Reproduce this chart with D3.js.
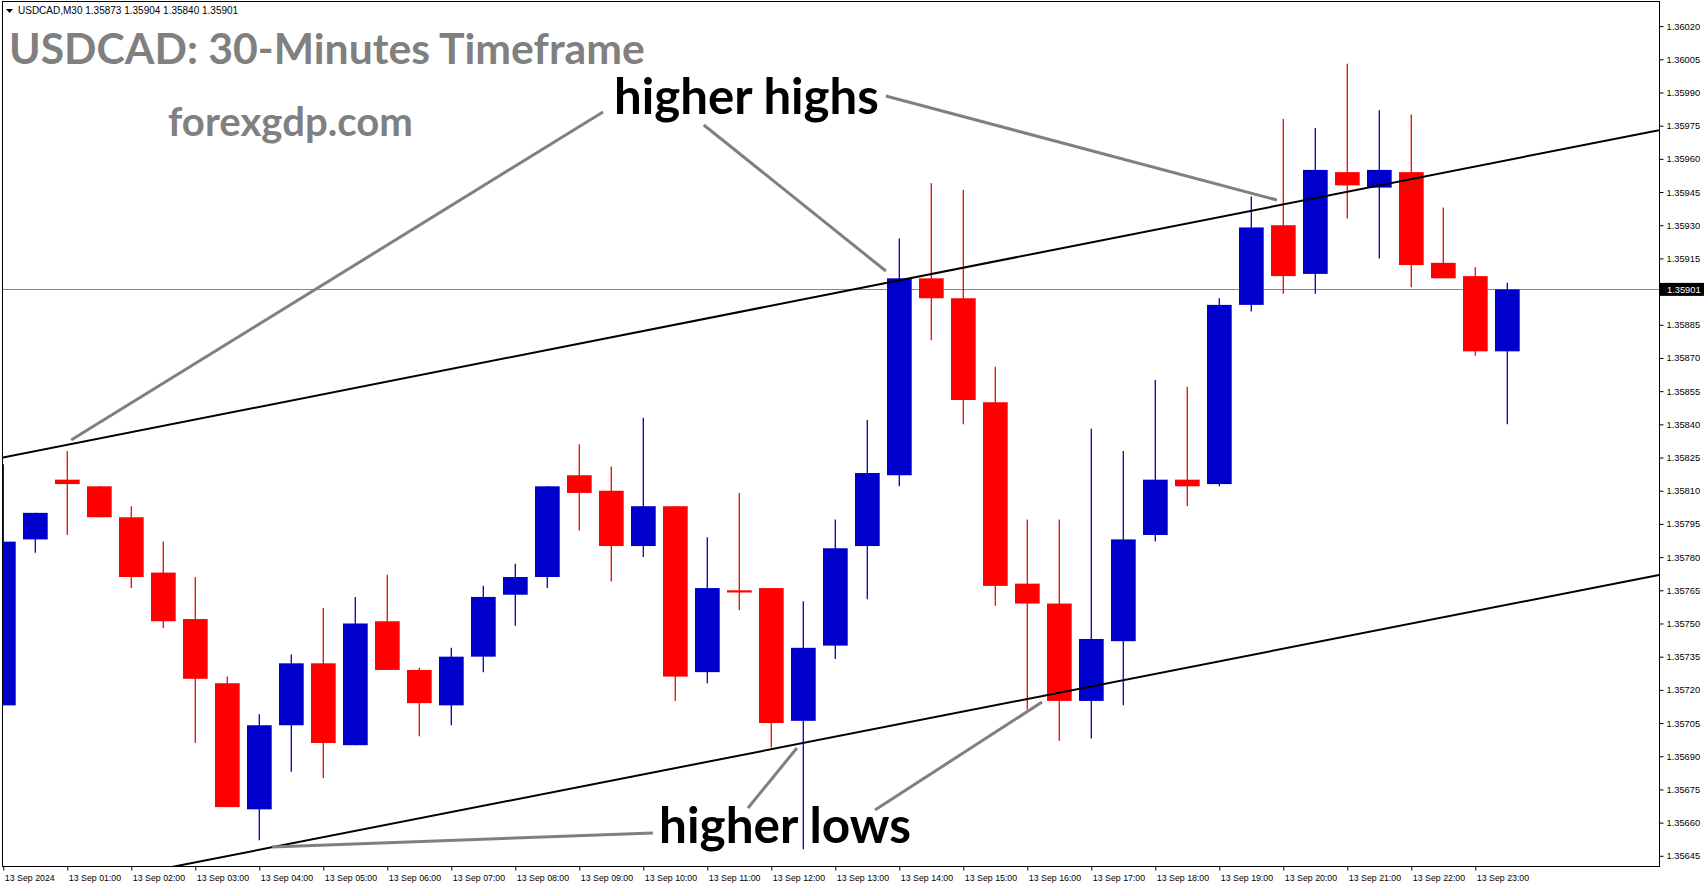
<!DOCTYPE html>
<html><head><meta charset="utf-8">
<script src="https://cdn.jsdelivr.net/npm/d3@7"></script>
<style>body{margin:0;background:#fff;overflow:hidden}</style>
</head><body><svg id="c" width="1705" height="888"></svg>
<script>
// ---------------- DATA ----------------
const timeLabels = ["13 Sep 2024","13 Sep 01:00","13 Sep 02:00","13 Sep 03:00","13 Sep 04:00","13 Sep 05:00",
  "13 Sep 06:00","13 Sep 07:00","13 Sep 08:00","13 Sep 09:00","13 Sep 10:00","13 Sep 11:00","13 Sep 12:00",
  "13 Sep 13:00","13 Sep 14:00","13 Sep 15:00","13 Sep 16:00","13 Sep 17:00","13 Sep 18:00","13 Sep 19:00",
  "13 Sep 20:00","13 Sep 21:00","13 Sep 22:00","13 Sep 23:00"];
const opens = [1.35713,1.35788,1.35815,1.35812,1.35798,1.35773,1.35752,1.35723,1.35666,1.35704,
 1.35732,1.35695,1.35751,1.35729,1.35713,1.35735,1.35763,1.35771,1.35817,1.35810,
 1.35785,1.35803,1.35728,1.35765,1.35766,1.35706,1.35740,1.35785,1.35817,1.35906,
 1.35897,1.35850,1.35768,1.35759,1.35715,1.35742,1.35790,1.35815,1.35813,1.35894,
 1.35930,1.35908,1.35954,1.35947,1.35954,1.35913,1.35907,1.35873];
const highs = [1.35822,1.35800,1.35828,1.35812,1.35803,1.35787,1.35771,1.35726,1.35709,1.35736,
 1.35757,1.35762,1.35772,1.35730,1.35739,1.35767,1.35777,1.35812,1.35831,1.35821,
 1.35843,1.35803,1.35789,1.35809,1.35766,1.35760,1.35797,1.35842,1.35924,1.35949,
 1.35946,1.35866,1.35797,1.35797,1.35838,1.35828,1.35860,1.35857,1.35897,1.35943,
 1.35978,1.35974,1.36003,1.35982,1.35980,1.35938,1.35911,1.35904];
const lows = [1.35713,1.35782,1.35790,1.35798,1.35766,1.35748,1.35696,1.35667,1.35652,1.35683,
 1.35680,1.35695,1.35729,1.35699,1.35704,1.35728,1.35749,1.35766,1.35792,1.35769,
 1.35780,1.35715,1.35723,1.35756,1.35694,1.35648,1.35734,1.35761,1.35812,1.35878,
 1.35840,1.35758,1.35711,1.35697,1.35698,1.35713,1.35787,1.35803,1.35812,1.35891,
 1.35899,1.35899,1.35933,1.35915,1.35902,1.35906,1.35871,1.35840];
const closes = [1.35787,1.35800,1.35813,1.35798,1.35771,1.35751,1.35725,1.35667,1.35704,1.35732,
 1.35696,1.35750,1.35729,1.35714,1.35735,1.35762,1.35771,1.35812,1.35809,1.35785,
 1.35803,1.35726,1.35766,1.35764,1.35705,1.35739,1.35784,1.35818,1.35906,1.35897,
 1.35851,1.35767,1.35759,1.35715,1.35743,1.35788,1.35815,1.35812,1.35894,1.35929,
 1.35907,1.35955,1.35948,1.35955,1.35912,1.35906,1.35873,1.35901];
const priceTicks = [1.36020,1.36005,1.35990,1.35975,1.35960,1.35945,1.35930,1.35915,1.35885,1.35870,
 1.35855,1.35840,1.35825,1.35810,1.35795,1.35780,1.35765,1.35750,1.35735,1.35720,1.35705,1.35690,
 1.35675,1.35660,1.35645];
const currentPrice = 1.35901;
const headerText = "USDCAD,M30  1.35873 1.35904 1.35840 1.35901";
const titleText = "USDCAD: 30-Minutes Timeframe";
const siteText = "forexgdp.com";
// trend channel anchors: [candle index, price]
const upperTrend = [[0,1.35825],[50,1.35968]];
const lowerTrend = [[0,1.35625],[50,1.35767]];
// annotation pointer lines: [[idx,price],[idx,price]]
const highPointers = [[[18.74,1.359812],[2.12,1.358329]],[[21.89,1.359753],[27.58,1.359093]],[[27.58,1.359884],[39.80,1.359414]]];
const lowPointers = [[[20.30,1.356553],[8.40,1.356490]],[[23.27,1.356666],[24.80,1.356937]],[[27.24,1.356657],[32.46,1.357145]]];

// ---------------- LAYOUT ----------------
const L = 2, R = 1659, T = 1, B = 866;
const svg = d3.select("#c");
const x = d3.scaleLinear().domain([0, 47]).range([3.3, 1507.3]);
const y = d3.scaleLinear().domain([1.35645, 1.36020]).range([855.8, 26.1]);
const data = opens.map((o,i)=>({i,o,h:highs[i],l:lows[i],c:closes[i]}));

svg.append("defs").append("clipPath").attr("id","pc").append("rect")
  .attr("x",L+1).attr("y",T+1).attr("width",R-L-1).attr("height",B-T-1);
const plot = svg.append("g").attr("clip-path","url(#pc)");

// current price line
plot.append("line").attr("x1",L).attr("x2",R).attr("y1",Math.round(y(currentPrice))+0.5).attr("y2",Math.round(y(currentPrice))+0.5)
  .attr("stroke","#7a8a9a").attr("stroke-width",1);

// candles
const cg = plot.append("g");
data.forEach(d=>{
  const col = d.c >= d.o ? "#0000cc" : "#ff0000";
  const cx = x(d.i);
  cg.append("line").attr("x1",cx).attr("x2",cx).attr("y1",y(d.h)).attr("y2",y(d.l))
    .attr("stroke",col).attr("stroke-width",1.3);
  const top = y(Math.max(d.o,d.c)), bot = y(Math.min(d.o,d.c));
  cg.append("rect").attr("x",cx-12.3).attr("width",24.7).attr("y",top).attr("height",Math.max(1.5,bot-top)).attr("fill",col);
});

// trend lines
function trend(a){
  const s = (a[1][1]-a[0][1])/(a[1][0]-a[0][0]);
  const i0 = x.invert(L), i1 = x.invert(R);
  return [[x(i0), y(a[0][1]+s*(i0-a[0][0]))],[x(i1), y(a[0][1]+s*(i1-a[0][0]))]];
}
[upperTrend, lowerTrend].forEach(a=>{
  const p = trend(a);
  plot.append("line").attr("x1",p[0][0]).attr("y1",p[0][1]).attr("x2",p[1][0]).attr("y2",p[1][1])
    .attr("stroke","#000").attr("stroke-width",2);
});

// annotation pointers
highPointers.concat(lowPointers).forEach(p=>{
  plot.append("line").attr("x1",x(p[0][0])).attr("y1",y(p[0][1])).attr("x2",x(p[1][0])).attr("y2",y(p[1][1]))
    .attr("stroke","#808080").attr("stroke-width",3);
});

// texts
function fitText(t, w){
  const len = t.node().getComputedTextLength();
  const fs = parseFloat(t.attr("font-size"));
  t.attr("font-size", fs*w/len);
}
const bigFont = "Lato, 'Open Sans', sans-serif";
fitText(svg.append("text").attr("x",9).attr("y",64).attr("font-family",bigFont).attr("font-weight",700)
  .attr("font-size",40).attr("fill","#808080").text(titleText), 636);
fitText(svg.append("text").attr("x",168).attr("y",136).attr("font-family",bigFont).attr("font-weight",700)
  .attr("font-size",30).attr("fill","#808080").text(siteText), 245);
fitText(svg.append("text").attr("x",614).attr("y",114).attr("font-family",bigFont).attr("font-weight",700)
  .attr("font-size",44).attr("fill","#000").text("higher highs"), 265);
fitText(svg.append("text").attr("x",659).attr("y",843).attr("font-family",bigFont).attr("font-weight",700)
  .attr("font-size",44).attr("fill","#000").text("higher lows"), 252);

// header
svg.append("path").attr("d","M6,9 L13,9 L9.5,13 Z").attr("fill","#000");
svg.append("text").attr("x",18).attr("y",14).attr("font-family","'Liberation Sans', Arial, sans-serif")
  .attr("font-size",10).attr("fill","#000").text(headerText);

// frame
svg.append("rect").attr("x",L+0.5).attr("y",T+0.5).attr("width",R-L).attr("height",B-T)
  .attr("fill","none").attr("stroke","#000").attr("stroke-width",1);

// right axis
const ya = svg.append("g").attr("transform",`translate(${R+0.5},0)`)
  .call(d3.axisRight(y).tickValues(priceTicks).tickSize(4).tickPadding(3).tickFormat(d3.format(".5f")));
ya.select(".domain").remove();
ya.selectAll("text").attr("font-family","'Liberation Sans', Arial, sans-serif").attr("font-size",9.3).attr("fill","#000");
ya.selectAll("line").attr("stroke","#000");

// current price label
const cy = y(currentPrice);
svg.append("rect").attr("x",R+1).attr("y",cy-6.5).attr("width",44).attr("height",13).attr("fill","#000");
svg.append("text").attr("x",R+8).attr("y",cy).attr("dy","0.34em").attr("font-family","'Liberation Sans', Arial, sans-serif")
  .attr("font-size",9.3).attr("fill","#fff").text(d3.format(".5f")(currentPrice));

// bottom axis
const tickIdx = timeLabels.map((_,k)=>k*2);
const xa = svg.append("g").attr("transform",`translate(0,${B+0.5})`)
  .call(d3.axisBottom(x).tickValues(tickIdx).tickSize(4).tickPadding(4).tickFormat((d,k)=>timeLabels[k]));
xa.select(".domain").remove();
xa.selectAll("text").attr("text-anchor","start").attr("dx",1).attr("font-family","'Liberation Sans', Arial, sans-serif")
  .attr("font-size",8.8).attr("fill","#000");
xa.selectAll("line").attr("stroke","#000");
</script></body></html>
